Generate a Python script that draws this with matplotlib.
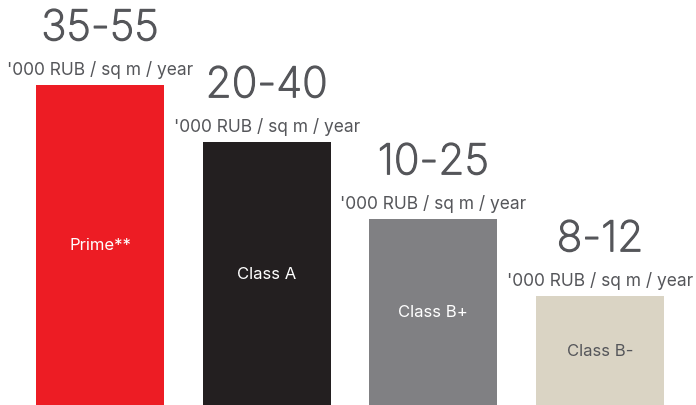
import matplotlib.pyplot as plt
import matplotlib.patheffects as pe

# office rent ranges by class
classes = ['Prime**', 'Class A', 'Class B+', 'Class B-']
ranges = ['35-55', '20-40', '10-25', '8-12']
unit = "'000 RUB / sq m / year"
heights = [320, 263, 186, 109]  # relative bar heights (no scale shown)

colors = ['#ED1C24', '#231F20', '#808083', '#DAD4C4']
label_colors = ['white', 'white', 'white', '#55565A']
grey = '#55565A'

plt.rcParams['font.family'] = ['Inter', 'DejaVu Sans']

fig = plt.figure(figsize=(6.96, 4.06), dpi=100)
ax = fig.add_axes([0, 0, 1, 1])

x = range(len(classes))
bars = ax.bar(x, heights, width=0.768, color=colors)

# slightly thicken the light weight so it sits between light and regular
thick = [pe.withStroke(linewidth=0.9, foreground=grey)]

for i, b in enumerate(bars):
    h = b.get_height()
    cx = b.get_x() + b.get_width() / 2
    ax.text(cx, h / 2, classes[i], ha='center', va='center',
            fontsize=12, color=label_colors[i])
    ax.annotate(unit, (cx, h), xytext=(0, 11.5), textcoords='offset points',
                ha='center', va='center', fontsize=12.5, color=grey)
    ax.annotate(ranges[i], (cx, h), xytext=(0, 40.5), textcoords='offset points',
                ha='center', va='center', fontsize=30.5, color=grey,
                fontweight='light', path_effects=thick)

ax.set_xlim(-0.6, 3.576)
ax.set_ylim(0, 406)
ax.axis('off')

fig.savefig('out.png', dpi=100)
